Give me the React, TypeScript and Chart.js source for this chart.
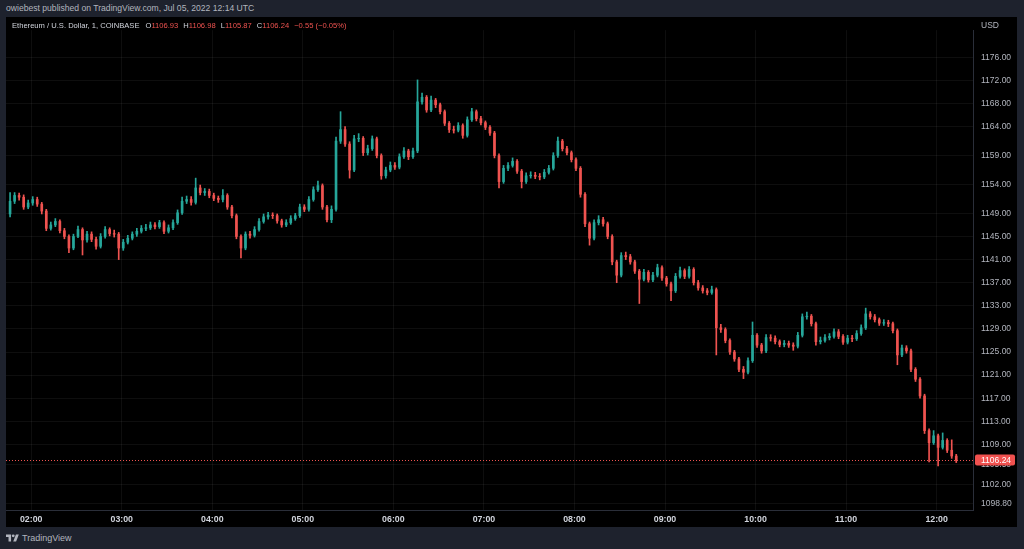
import React, { useEffect, useRef } from "react";
import { Chart, registerables } from "chart.js";

Chart.register(...registerables);

// ETH/USD 3-minute candles (first candle 01:46, last 12:14)
const START_MINUTE = 106;
const STEP_MINUTES = 3;

const opens = [
  1148.9, 1151.1, 1152.1, 1151.8, 1150.1, 1150.8, 1151.4, 1150.6, 1149.4, 1146.4,
  1147.0, 1147.6, 1146.0, 1145.0, 1143.0, 1145.0, 1146.2, 1144.4, 1145.4, 1144.5,
  1143.3, 1145.0, 1146.2, 1145.5, 1145.4, 1143.0, 1144.0, 1144.7, 1145.4, 1145.9,
  1146.4, 1146.5, 1147.0, 1146.7, 1147.4, 1145.9, 1146.5, 1147.4, 1149.1, 1151.1,
  1151.4, 1150.9, 1153.4, 1152.6, 1152.8, 1152.1, 1151.6, 1151.4, 1152.1, 1150.1,
  1148.6, 1145.0, 1143.0, 1145.4, 1145.2, 1146.2, 1147.6, 1148.4, 1148.7, 1148.6,
  1147.7, 1147.0, 1147.4, 1148.1, 1148.6, 1150.1, 1149.7, 1151.4, 1153.1, 1153.8,
  1150.1, 1147.9, 1149.7, 1161.5, 1163.5, 1161.0, 1156.5, 1161.9, 1162.0, 1159.5,
  1160.2, 1161.9, 1159.0, 1155.5, 1156.5, 1157.3, 1157.0, 1158.8, 1159.8, 1158.8,
  1159.8, 1168.3, 1169.1, 1166.9, 1168.6, 1167.8, 1166.6, 1164.6, 1163.5, 1163.4,
  1164.2, 1162.5, 1165.2, 1166.6, 1165.4, 1164.7, 1163.9, 1162.9, 1159.0, 1154.5,
  1156.8, 1157.3, 1158.0, 1156.3, 1154.5, 1155.5, 1155.6, 1155.4, 1155.3, 1156.1,
  1156.8, 1159.0, 1161.5, 1160.2, 1159.5, 1158.3, 1156.8, 1152.3, 1147.2, 1144.7,
  1147.4, 1147.9, 1147.2, 1145.0, 1140.6, 1138.3, 1141.7, 1141.5, 1140.6, 1139.0,
  1137.6, 1138.8, 1137.5, 1138.3, 1139.6, 1137.8, 1136.8, 1135.6, 1138.1, 1139.1,
  1138.1, 1139.3, 1137.0, 1136.1, 1135.6, 1135.3, 1135.8, 1129.2, 1128.9, 1127.0,
  1125.0, 1123.8, 1122.0, 1121.5, 1123.5, 1127.9, 1126.2, 1125.2, 1127.5, 1127.4,
  1126.8, 1126.3, 1126.5, 1126.2, 1126.0, 1127.9, 1131.1, 1131.2, 1129.9, 1126.8,
  1127.0, 1127.5, 1127.7, 1128.5, 1127.7, 1126.7, 1127.4, 1127.3, 1128.2, 1129.2,
  1131.6, 1131.1, 1130.6, 1130.0, 1130.1, 1129.9, 1128.7, 1124.5, 1125.7, 1125.2,
  1122.0, 1120.3, 1117.4, 1111.4, 1109.3, 1110.5, 1108.5, 1109.7, 1108.0, 1107.0,
];

const highs = [
  1152.6, 1152.6, 1152.5, 1152.2, 1151.3, 1151.9, 1151.8, 1150.9, 1149.7, 1147.5,
  1148.1, 1147.9, 1146.4, 1145.3, 1145.4, 1146.8, 1146.5, 1145.9, 1145.8, 1144.9,
  1145.5, 1146.7, 1146.5, 1146.1, 1145.7, 1144.5, 1145.2, 1145.8, 1146.4, 1146.9,
  1147.1, 1147.5, 1147.4, 1147.8, 1147.7, 1147.0, 1147.9, 1149.6, 1151.8, 1152.0,
  1151.9, 1155.1, 1153.9, 1153.3, 1153.2, 1152.5, 1152.0, 1153.1, 1152.4, 1150.4,
  1148.9, 1145.3, 1145.8, 1145.9, 1146.7, 1148.1, 1148.9, 1149.2, 1149.1, 1148.9,
  1148.0, 1147.9, 1148.6, 1149.0, 1150.6, 1150.5, 1151.9, 1153.6, 1154.6, 1154.1,
  1150.4, 1150.3, 1162.2, 1166.6, 1164.0, 1161.4, 1162.5, 1162.8, 1162.3, 1160.8,
  1162.4, 1162.2, 1159.3, 1157.0, 1157.9, 1157.8, 1159.3, 1160.4, 1160.1, 1160.3,
  1172.1, 1169.8, 1169.4, 1169.3, 1168.9, 1168.1, 1166.9, 1164.9, 1164.1, 1164.7,
  1164.5, 1165.7, 1167.2, 1166.9, 1165.8, 1165.0, 1164.2, 1163.2, 1159.3, 1157.3,
  1157.8, 1158.6, 1158.3, 1156.6, 1156.0, 1156.2, 1156.1, 1155.9, 1156.6, 1157.3,
  1159.5, 1162.2, 1161.8, 1160.6, 1159.8, 1158.6, 1157.1, 1152.6, 1147.5, 1147.9,
  1148.6, 1148.3, 1147.5, 1145.3, 1140.9, 1142.2, 1142.3, 1141.9, 1140.9, 1139.3,
  1139.3, 1139.1, 1138.8, 1140.2, 1139.9, 1138.1, 1137.1, 1138.6, 1139.7, 1139.4,
  1139.8, 1139.6, 1137.4, 1136.5, 1136.0, 1136.4, 1136.1, 1129.8, 1129.2, 1127.3,
  1125.3, 1124.1, 1122.5, 1124.0, 1130.2, 1128.2, 1126.5, 1128.0, 1128.0, 1127.8,
  1127.1, 1127.0, 1126.9, 1126.6, 1128.4, 1131.6, 1131.9, 1131.5, 1130.2, 1127.6,
  1128.0, 1128.2, 1129.0, 1128.9, 1128.0, 1127.9, 1127.9, 1128.7, 1129.7, 1132.6,
  1132.0, 1131.5, 1130.9, 1130.6, 1130.5, 1130.2, 1129.0, 1126.2, 1126.1, 1125.5,
  1122.3, 1120.6, 1117.7, 1111.7, 1111.4, 1110.8, 1111.0, 1110.0, 1109.8, 1107.3,
];

const lows = [
  1148.4, 1150.7, 1151.3, 1149.7, 1149.8, 1150.4, 1150.2, 1148.9, 1146.0, 1146.1,
  1146.7, 1145.6, 1144.6, 1142.2, 1142.7, 1144.8, 1141.8, 1144.0, 1144.1, 1142.8,
  1143.0, 1144.7, 1145.1, 1144.9, 1141.0, 1142.6, 1143.7, 1144.4, 1145.0, 1145.6,
  1146.0, 1146.2, 1146.3, 1146.4, 1145.5, 1145.6, 1146.2, 1147.1, 1148.8, 1150.7,
  1150.4, 1150.6, 1152.2, 1152.1, 1151.7, 1151.2, 1150.9, 1151.0, 1149.7, 1148.2,
  1144.6, 1141.3, 1142.7, 1144.7, 1144.9, 1145.9, 1147.3, 1148.0, 1148.1, 1147.3,
  1146.6, 1146.7, 1147.1, 1147.8, 1148.3, 1149.3, 1149.4, 1151.1, 1152.8, 1149.7,
  1147.5, 1147.4, 1149.4, 1161.1, 1160.6, 1155.1, 1156.2, 1161.4, 1159.0, 1159.1,
  1159.9, 1158.6, 1154.9, 1155.1, 1156.2, 1156.6, 1156.7, 1158.5, 1158.3, 1158.5,
  1159.5, 1167.9, 1166.5, 1166.6, 1167.3, 1166.2, 1164.2, 1163.0, 1162.9, 1163.1,
  1162.0, 1162.2, 1164.9, 1165.0, 1164.3, 1163.5, 1162.5, 1158.6, 1153.4, 1154.2,
  1156.4, 1157.0, 1155.9, 1153.4, 1154.2, 1155.1, 1155.0, 1154.8, 1155.0, 1155.8,
  1156.5, 1158.7, 1159.8, 1159.1, 1157.9, 1156.4, 1151.8, 1146.7, 1143.5, 1144.4,
  1147.0, 1146.8, 1144.6, 1140.1, 1137.0, 1138.0, 1141.0, 1140.2, 1138.6, 1133.4,
  1137.3, 1137.1, 1137.2, 1138.0, 1137.4, 1136.4, 1133.9, 1135.3, 1137.8, 1137.7,
  1137.8, 1136.6, 1135.7, 1135.2, 1134.9, 1135.0, 1124.5, 1128.4, 1126.6, 1124.6,
  1123.4, 1121.6, 1120.4, 1121.2, 1123.2, 1125.8, 1124.8, 1124.9, 1126.9, 1126.4,
  1125.9, 1125.9, 1125.8, 1125.3, 1125.7, 1127.6, 1130.7, 1129.5, 1126.2, 1126.4,
  1126.7, 1127.1, 1127.4, 1127.3, 1126.3, 1126.4, 1126.8, 1127.0, 1127.9, 1128.9,
  1130.7, 1130.2, 1129.6, 1129.6, 1129.4, 1128.3, 1122.8, 1124.2, 1124.8, 1121.6,
  1119.9, 1117.0, 1110.9, 1106.0, 1109.0, 1105.3, 1108.2, 1107.6, 1106.6, 1105.87,
];

const closes = [
  1151.1, 1152.1, 1151.8, 1150.1, 1150.8, 1151.4, 1150.6, 1149.4, 1146.4, 1147.0,
  1147.6, 1146.0, 1145.0, 1143.0, 1145.0, 1146.2, 1144.4, 1145.4, 1144.5, 1143.3,
  1145.0, 1146.2, 1145.5, 1145.4, 1143.0, 1144.0, 1144.7, 1145.4, 1145.9, 1146.4,
  1146.5, 1147.0, 1146.7, 1147.4, 1145.9, 1146.5, 1147.4, 1149.1, 1151.1, 1151.4,
  1150.9, 1153.4, 1152.6, 1152.8, 1152.1, 1151.6, 1151.4, 1152.1, 1150.1, 1148.6,
  1145.0, 1143.0, 1145.4, 1145.2, 1146.2, 1147.6, 1148.4, 1148.7, 1148.6, 1147.7,
  1147.0, 1147.4, 1148.1, 1148.6, 1150.1, 1149.7, 1151.4, 1153.1, 1153.8, 1150.1,
  1147.9, 1149.7, 1161.5, 1163.5, 1161.0, 1156.5, 1161.9, 1162.0, 1159.5, 1160.2,
  1161.9, 1159.0, 1155.5, 1156.5, 1157.3, 1157.0, 1158.8, 1159.8, 1158.8, 1159.8,
  1168.3, 1169.1, 1166.9, 1168.6, 1167.8, 1166.6, 1164.6, 1163.5, 1163.4, 1164.2,
  1162.5, 1165.2, 1166.6, 1165.4, 1164.7, 1163.9, 1162.9, 1159.0, 1154.5, 1156.8,
  1157.3, 1158.0, 1156.3, 1154.5, 1155.5, 1155.6, 1155.4, 1155.3, 1156.1, 1156.8,
  1159.0, 1161.5, 1160.2, 1159.5, 1158.3, 1156.8, 1152.3, 1147.2, 1144.7, 1147.4,
  1147.9, 1147.2, 1145.0, 1140.6, 1138.3, 1141.7, 1141.5, 1140.6, 1139.0, 1137.6,
  1138.8, 1137.5, 1138.3, 1139.6, 1137.8, 1136.8, 1135.6, 1138.1, 1139.1, 1138.1,
  1139.3, 1137.0, 1136.1, 1135.6, 1135.3, 1135.8, 1129.2, 1128.9, 1127.0, 1125.0,
  1123.8, 1122.0, 1121.5, 1123.5, 1127.9, 1126.2, 1125.2, 1127.5, 1127.4, 1126.8,
  1126.3, 1126.5, 1126.2, 1126.0, 1127.9, 1131.1, 1131.2, 1129.9, 1126.8, 1127.0,
  1127.5, 1127.7, 1128.5, 1127.7, 1126.7, 1127.4, 1127.3, 1128.2, 1129.2, 1131.6,
  1131.1, 1130.6, 1130.0, 1130.1, 1129.9, 1128.7, 1124.5, 1125.7, 1125.2, 1122.0,
  1120.3, 1117.4, 1111.4, 1109.3, 1110.5, 1108.5, 1109.7, 1108.0, 1107.0, 1106.24,
];

const priceTicks = [
  1176, 1172, 1168, 1164, 1159, 1154, 1149, 1145, 1141, 1137,
  1133, 1129, 1125, 1121, 1117, 1113, 1109, 1105.5, 1102, 1098.8,
];
const priceTickLabels = [
  "1176.00", "1172.00", "1168.00", "1164.00", "1159.00", "1154.00", "1149.00", "1145.00", "1141.00", "1137.00",
  "1133.00", "1129.00", "1125.00", "1121.00", "1117.00", "1113.00", "1109.00", "1105.50", "1102.00", "1098.80",
];
const hourTicks = [120, 180, 240, 300, 360, 420, 480, 540, 600, 660, 720];
const hourLabels = ["02:00", "03:00", "04:00", "05:00", "06:00", "07:00", "08:00", "09:00", "10:00", "11:00", "12:00"];

const LAST_PRICE = 1106.24;
const LAST_PRICE_LABEL = "1106.24";
const X_MIN = 103.3;
const X_MAX = 744.1;
const Y_MIN = 1097.66;
const Y_MAX = 1180.72;

const UP = "#26a69a";
const DOWN = "#ef5350";
const FONT = "'Liberation Sans', Arial, sans-serif";

const lastPricePlugin = {
  id: "lastPrice",
  afterDraw(chart: any) {
    const { ctx, chartArea, scales } = chart;
    const py = Math.round(scales.y.getPixelForValue(LAST_PRICE)) + 0.5;
    ctx.save();
    ctx.strokeStyle = DOWN;
    ctx.lineWidth = 1;
    ctx.setLineDash([1, 2]);
    ctx.beginPath();
    ctx.moveTo(chartArea.left, py);
    ctx.lineTo(chartArea.right, py);
    ctx.stroke();
    ctx.setLineDash([]);
    ctx.fillStyle = "#f0514f";
    ctx.beginPath();
    (ctx as any).roundRect
      ? (ctx as any).roundRect(chartArea.right + 2, py - 6, 40, 11, 2)
      : ctx.rect(chartArea.right + 2, py - 6, 40, 11);
    ctx.fill();
    ctx.fillStyle = "#ffffff";
    ctx.font = `8.5px ${FONT}`;
    ctx.textBaseline = "middle";
    ctx.textAlign = "left";
    ctx.fillText(LAST_PRICE_LABEL, chartArea.right + 8, py);
    ctx.restore();
  },
};

function CandleChart() {
  const ref = useRef<HTMLCanvasElement | null>(null);
  useEffect(() => {
    if (!ref.current) return;
    const times = closes.map((_, i) => START_MINUTE + i * STEP_MINUTES);
    const colors = closes.map((c, i) => (c >= opens[i] ? UP : DOWN));
    const chart = new Chart(ref.current, {
      type: "bar",
      data: {
        datasets: [
          {
            label: "body",
            data: times.map((t, i) => ({ x: t, y: [opens[i], closes[i]] })) as any,
            backgroundColor: colors,
            borderWidth: 0,
            barThickness: 2,
            grouped: false,
          } as any,
          {
            label: "wick",
            data: times.map((t, i) => ({ x: t, y: [lows[i], highs[i]] })) as any,
            backgroundColor: colors,
            borderWidth: 0,
            barThickness: 1,
            grouped: false,
          } as any,
        ],
      },
      options: {
        animation: false,
        responsive: true,
        maintainAspectRatio: false,
        events: [],
        layout: { padding: 0 },
        plugins: { legend: { display: false }, tooltip: { enabled: false } },
        scales: {
          x: {
            type: "linear",
            min: X_MIN,
            max: X_MAX,
            offset: false,
            afterBuildTicks: (s: any) => {
              s.ticks = hourTicks.map((v) => ({ value: v }));
            },
            afterFit: (s: any) => {
              s.height = 17;
            },
            grid: { color: "rgba(255,255,255,0.055)", drawTicks: false, offset: false },
            border: { display: true, color: "#2a2e39" },
            ticks: {
              autoSkip: false,
              maxRotation: 0,
              padding: 4,
              color: "#d1d4dc",
              font: { family: FONT, size: 8.8, weight: "bold" },
              callback: (_v: any, i: number) => hourLabels[i],
            },
          },
          y: {
            type: "linear",
            position: "right",
            min: Y_MIN,
            max: Y_MAX,
            afterBuildTicks: (s: any) => {
              s.ticks = priceTicks.map((v) => ({ value: v }));
            },
            afterFit: (s: any) => {
              s.width = 44;
            },
            grid: { color: "rgba(255,255,255,0.055)", drawTicks: false },
            border: { display: true, color: "#2a2e39" },
            ticks: {
              autoSkip: false,
              padding: 8,
              color: "#b2b5be",
              font: { family: FONT, size: 8.5 },
              callback: (_v: any, i: number) => priceTickLabels[i],
            },
          },
        },
      } as any,
      plugins: [lastPricePlugin],
    });
    return () => chart.destroy();
  }, []);
  return <canvas ref={ref} />;
}

export default function App() {
  const small: React.CSSProperties = { fontFamily: FONT, fontSize: "8.5px", whiteSpace: "nowrap" };
  const val = { color: DOWN };
  return (
    <div
      style={{
        position: "fixed",
        left: 0,
        top: 0,
        width: 1024,
        height: 549,
        background: "#1e222d",
        overflow: "hidden",
      }}
    >
      <div style={{ ...small, position: "absolute", left: 6, top: 3, color: "#b2b5be", fontSize: "8.6px" }}>
        owiebest published on TradingView.com, Jul 05, 2022 12:14 UTC
      </div>
      <div style={{ position: "absolute", left: 6, top: 17, width: 1011, height: 510, background: "#000" }}>
        <CandleChart />
      </div>
      <div style={{ ...small, fontSize: "7.6px", position: "absolute", left: 12, top: 21, color: "#d1d4dc" }}>
        <span>Ethereum / U.S. Dollar, 1, COINBASE</span>
        <span style={{ marginLeft: 6 }}>O</span>
        <span style={val}>1106.93</span>
        <span style={{ marginLeft: 5 }}>H</span>
        <span style={val}>1106.98</span>
        <span style={{ marginLeft: 5 }}>L</span>
        <span style={val}>1105.87</span>
        <span style={{ marginLeft: 5 }}>C</span>
        <span style={val}>1106.24</span>
        <span style={{ ...val, marginLeft: 5 }}>−0.55 (−0.05%)</span>
      </div>
      <div style={{ ...small, position: "absolute", left: 981, top: 20, color: "#b2b5be" }}>USD</div>
      <div style={{ position: "absolute", left: 6, top: 533, display: "flex", alignItems: "center" }}>
        <svg width="13" height="8" viewBox="0 0 36 20">
          <path d="M14 20H7V7H0V0h14v20zM28 20h-8l7.5-20h8L28 20z" fill="#b2b5be" />
          <circle cx="20" cy="4" r="4" fill="#b2b5be" />
        </svg>
        <span style={{ ...small, fontSize: "9px", color: "#b2b5be", marginLeft: 3 }}>TradingView</span>
      </div>
    </div>
  );
}
